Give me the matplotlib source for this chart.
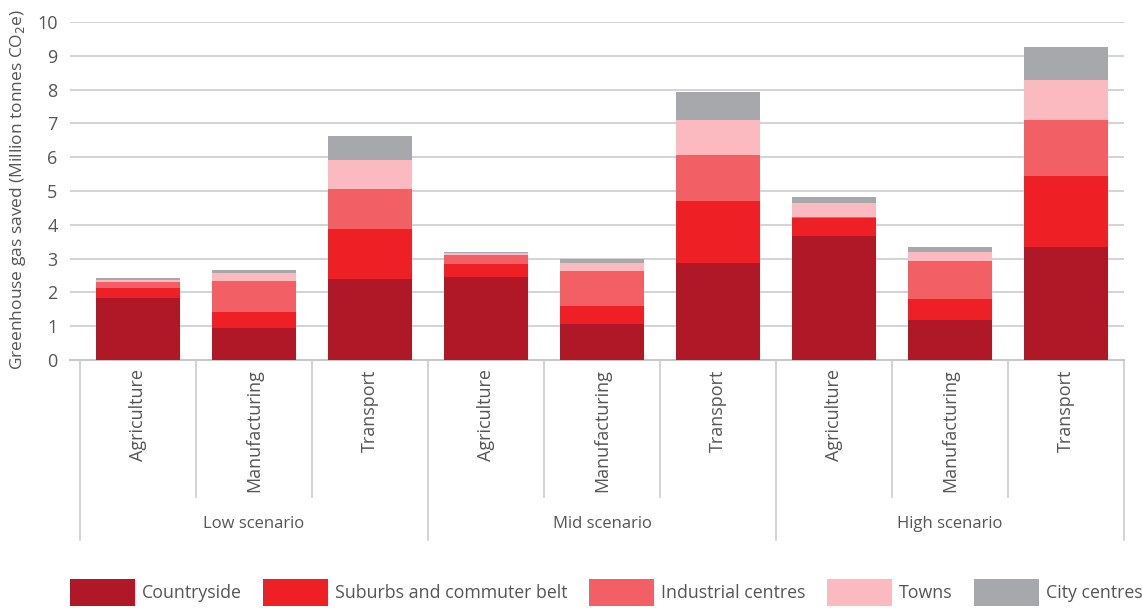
import numpy as np
import matplotlib.pyplot as plt
import matplotlib.transforms as mtransforms
from matplotlib.patches import Patch

plt.rcParams['font.family'] = ['Open Sans', 'DejaVu Sans']

scenarios = ['Low scenario', 'Mid scenario', 'High scenario']
sectors = ['Agriculture', 'Manufacturing', 'Transport']
series = ['Countryside', 'Suburbs and commuter belt', 'Industrial centres', 'Towns', 'City centres']
colors = ['#B01827', '#EE1F25', '#F26066', '#FABABF', '#A7A8AC']

# order: Low (Agr, Man, Tra), Mid (...), High (...)
countryside = [1.84, 0.96, 2.39, 2.45, 1.07, 2.86, 3.66, 1.19, 3.33]
suburbs = [0.29, 0.46, 1.50, 0.38, 0.53, 1.83, 0.55, 0.62, 2.12]
industrial = [0.19, 0.91, 1.18, 0.28, 1.03, 1.38, 0.02, 1.11, 1.65]
towns = [0.05, 0.23, 0.85, 0.07, 0.23, 1.02, 0.42, 0.27, 1.17]
city = [0.05, 0.10, 0.71, 0.03, 0.13, 0.83, 0.17, 0.14, 1.00]

fig = plt.figure(figsize=(11.42, 6.08), dpi=100)
ax = fig.add_axes([70/1142, (608-360)/608, (1124-70)/1142, 338/608])

x = np.arange(9)
bottom = np.zeros(9)
for vals, col, name in zip([countryside, suburbs, industrial, towns, city], colors, series):
    ax.bar(x, vals, width=0.72, bottom=bottom, color=col, label=name, zorder=3)
    bottom += np.array(vals)

ax.set_ylim(0, 10)
ax.set_xlim(-0.5 - 10/116, 8.5)
ax.set_yticks(range(11))
ax.yaxis.grid(True, color='#cccccc', linewidth=1.2, zorder=0)
ax.set_axisbelow(True)
for s in ['top', 'right', 'left']:
    ax.spines[s].set_visible(False)
ax.spines['bottom'].set_color('#c8c8c8')
ax.spines['bottom'].set_linewidth(1.5)
ax.tick_params(axis='y', length=0, labelsize=13, labelcolor='#555555', pad=9)
ax.tick_params(axis='x', length=0, labelbottom=False)
ax.set_ylabel('Greenhouse gas saved (Million tonnes CO$_2$e)', fontsize=12.5, color='#555555')
ax.yaxis.set_label_coords(-0.04, 0.505)

trans = mtransforms.blended_transform_factory(ax.transData, ax.transAxes)
for i in range(9):
    ax.text(i, -0.028, sectors[i % 3], rotation=90, ha='center', va='top',
            fontsize=13, color='#555555', transform=trans)
for i in range(10):
    edge = i - 0.5
    ybot = -0.533 if i % 3 == 0 else -0.405
    ax.plot([edge, edge], [0, ybot], color='#cccccc', linewidth=1.2,
            transform=trans, clip_on=False)
for g, name in enumerate(scenarios):
    ax.text(3*g + 1, -0.485, name, ha='center', va='center', fontsize=12,
            color='#555555', transform=trans)

handles = [Patch(facecolor=c, label=n) for c, n in zip(colors, series)]
fig.legend(handles=handles, loc='upper left', bbox_to_anchor=(70/1142, 1 - 579/608),
           ncol=5, frameon=False, fontsize=12.8, handlelength=3.65, handleheight=2.0,
           columnspacing=1.2, handletextpad=0.4, borderpad=0, borderaxespad=0,
           labelcolor='#555555')

fig.savefig('out.png', dpi=100)
